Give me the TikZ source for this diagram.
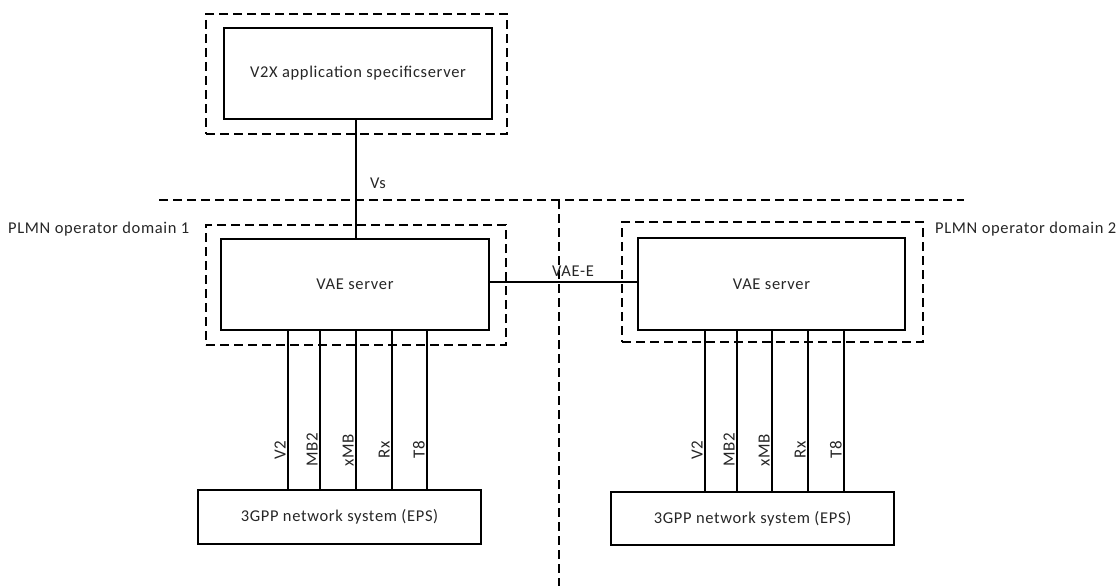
\documentclass[tikz,border=0pt]{standalone}
\usepackage{fontspec}
\setmainfont[LetterSpace=4]{Carlito}
\begin{document}
\begin{tikzpicture}[x=1pt,y=-1pt,
  every node/.style={font=\fontsize{16.5}{19}\selectfont,text=black!85},
  solidbox/.style={draw,line width=1.3pt,rectangle,inner sep=0pt},
  dashbox/.style={draw,line width=1.3pt,rectangle,inner sep=0pt,dash pattern=on 9pt off 5pt},
  dline/.style={line width=1.3pt,dash pattern=on 9pt off 5pt},
  iface/.style={line width=1.3pt},
  ilabel/.style={rotate=90,anchor=base,inner sep=0pt,font=\fontsize{17}{19}\selectfont}]
\useasboundingbox (0,0) rectangle (1118,586);
% boxes
\node[dashbox,minimum width=301,minimum height=120] (topdash) at (356.5,74) {};
\node[solidbox,minimum width=268,minimum height=91] (v2x) at (358,73.5) {V2X application specificserver};
\node[dashbox,minimum width=300,minimum height=120] (dash1) at (356,285) {};
\node[solidbox,minimum width=268,minimum height=91] (vae1) at (355,284.5) {VAE server};
\node[dashbox,minimum width=301,minimum height=120] (dash2) at (772.5,282) {};
\node[solidbox,minimum width=267,minimum height=92] (vae2) at (771.5,284) {VAE server};
\node[solidbox,minimum width=283,minimum height=54] (eps1) at (339.5,517) {3GPP network system (EPS)};
\node[solidbox,minimum width=283,minimum height=53] (eps2) at (752.5,518.5) {3GPP network system (EPS)};
% domain labels
\node[anchor=west,inner sep=0pt] (plmn1) at (8,229) {PLMN operator domain 1};
\node[anchor=west,inner sep=0pt] (plmn2) at (935,229) {PLMN operator domain 2};
% domain separators
\coordinate (hl) at (159,200);
\coordinate (hr) at (964,200);
\coordinate (vt) at (559,200);
\coordinate (vb) at (559,586);
\draw[dline] (hl) -- (hr);
\draw[dline] (vt) -- (vb);
% Vs
\draw[iface] (vae1.north -| 356,0) -- (v2x.south -| 356,0);
\node (vs) at (378,183) {Vs};
% VAE-E
\draw[iface] ([yshift=2.5]vae1.east) -- ([yshift=2.5]vae1.east -| vae2.west);
\node (vaee) at (573,271) {VAE-E};
% interfaces domain 1
\foreach \x/\lab [count=\i] in {288/V2,320/MB2,356/xMB,392/Rx,427/T8}{
  \draw[iface] (vae1.south -| \x,0) -- (eps1.north -| \x,0);
  \node[ilabel] (la\i) at (\x-2.5,450) {\lab};
}
% interfaces domain 2
\foreach \x/\lab [count=\i] in {705/V2,737/MB2,772/xMB,808/Rx,844/T8}{
  \draw[iface] (vae2.south -| \x,0) -- (eps2.north -| \x,0);
  \node[ilabel] (lb\i) at (\x-2.5,450) {\lab};
}
\end{tikzpicture}
\end{document}
